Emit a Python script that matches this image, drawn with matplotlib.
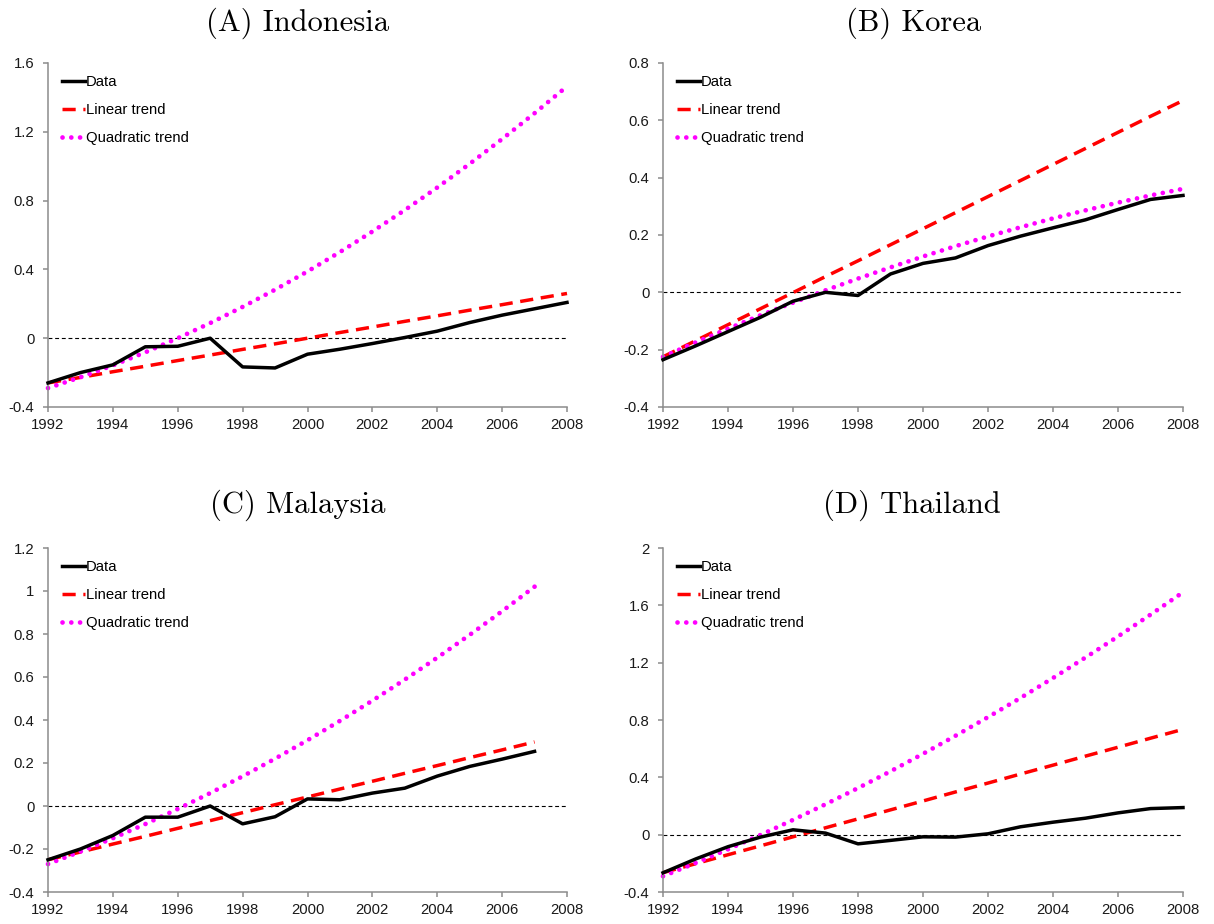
import matplotlib
matplotlib.use("Agg")
import matplotlib.pyplot as plt

plt.rcParams["font.family"] = ["Liberation Sans", "DejaVu Sans"]

years = list(range(1992, 2009))
x_ticks = [1992, 1994, 1996, 1998, 2000, 2002, 2004, 2006, 2008]
x_tick_labels = ["1992", "1994", "1996", "1998", "2000", "2002", "2004", "2006", "2008"]

# (A) Indonesia
indonesia_data = [-0.26, -0.20, -0.155, -0.05, -0.047, 0.0, -0.167, -0.173, -0.093,
                  -0.064, -0.031, 0.004, 0.041, 0.091, 0.134, 0.171, 0.208]
indonesia_linear = [-0.26, -0.228, -0.195, -0.163, -0.13, -0.098, -0.065, -0.033, 0.0,
                    0.033, 0.065, 0.098, 0.13, 0.163, 0.195, 0.228, 0.26]
indonesia_quad = [-0.29, -0.227, -0.158, -0.082, 0.0, 0.088, 0.182, 0.282, 0.388,
                  0.501, 0.62, 0.745, 0.876, 1.014, 1.158, 1.308, 1.464]
indonesia_yticks = [-0.4, 0.0, 0.4, 0.8, 1.2, 1.6]
indonesia_ylabels = ["-0.4", "0", "0.4", "0.8", "1.2", "1.6"]

# (B) Korea
korea_data = [-0.235, -0.187, -0.137, -0.087, -0.031, 0.0, -0.011, 0.064, 0.101,
              0.12, 0.163, 0.196, 0.225, 0.253, 0.289, 0.324, 0.338]
korea_linear = [-0.225, -0.169, -0.113, -0.057, -0.001, 0.055, 0.11, 0.166, 0.222,
                0.278, 0.334, 0.39, 0.446, 0.502, 0.558, 0.614, 0.669]
korea_quad = [-0.225, -0.175, -0.127, -0.08, -0.036, 0.007, 0.048, 0.087, 0.125,
              0.161, 0.195, 0.227, 0.258, 0.286, 0.313, 0.338, 0.361]
korea_yticks = [-0.4, -0.2, 0.0, 0.2, 0.4, 0.6, 0.8]
korea_ylabels = ["-0.4", "-0.2", "0", "0.2", "0.4", "0.6", "0.8"]

# (C) Malaysia (series end in 2007)
malaysia_years = list(range(1992, 2008))
malaysia_data = [-0.25, -0.20, -0.137, -0.052, -0.052, 0.0, -0.083, -0.05, 0.033,
                 0.029, 0.06, 0.083, 0.139, 0.184, 0.218, 0.254]
malaysia_linear = [-0.25, -0.214, -0.177, -0.141, -0.104, -0.068, -0.031, 0.006, 0.042,
                   0.079, 0.115, 0.152, 0.188, 0.225, 0.261, 0.298]
malaysia_quad = [-0.27, -0.212, -0.15, -0.084, -0.014, 0.06, 0.138, 0.22, 0.306,
                 0.396, 0.49, 0.588, 0.69, 0.796, 0.906, 1.02]
malaysia_yticks = [-0.4, -0.2, 0.0, 0.2, 0.4, 0.6, 0.8, 1.0, 1.2]
malaysia_ylabels = ["-0.4", "-0.2", "0", "0.2", "0.4", "0.6", "0.8", "1", "1.2"]

# (D) Thailand
thailand_data = [-0.266, -0.17, -0.084, -0.017, 0.034, 0.011, -0.064, -0.04, -0.015,
                 -0.017, 0.006, 0.055, 0.087, 0.115, 0.152, 0.182, 0.189]
thailand_linear = [-0.265, -0.203, -0.14, -0.078, -0.015, 0.048, 0.11, 0.173, 0.235,
                   0.298, 0.36, 0.423, 0.485, 0.548, 0.61, 0.673, 0.735]
thailand_quad = [-0.29, -0.198, -0.102, -0.002, 0.103, 0.212, 0.325, 0.442, 0.564,
                 0.69, 0.82, 0.954, 1.093, 1.236, 1.383, 1.535, 1.691]
thailand_yticks = [-0.4, 0.0, 0.4, 0.8, 1.2, 1.6, 2.0]
thailand_ylabels = ["-0.4", "0", "0.4", "0.8", "1.2", "1.6", "2"]

titles = ["(A) Indonesia", "(B) Korea", "(C) Malaysia", "(D) Thailand"]
series_labels = ["Data", "Linear trend", "Quadratic trend"]

W, H = 1214, 924
fig = plt.figure(figsize=(W / 100, H / 100), dpi=100)

# axes boxes in pixels: left, top, width, height
boxes = [(48, 63, 519, 344), (663, 63, 520, 344),
         (48, 548, 519, 344), (663, 548, 520, 344)]
title_pos = [(298, 23), (914, 23), (298, 505), (912, 505)]

panels = [
    (years, indonesia_data, years, indonesia_linear, years, indonesia_quad,
     indonesia_yticks, indonesia_ylabels),
    (years, korea_data, years, korea_linear, years, korea_quad,
     korea_yticks, korea_ylabels),
    (malaysia_years, malaysia_data, malaysia_years, malaysia_linear,
     malaysia_years, malaysia_quad, malaysia_yticks, malaysia_ylabels),
    (years, thailand_data, years, thailand_linear, years, thailand_quad,
     thailand_yticks, thailand_ylabels),
]

axis_gray = "#8c8c8c"
tick_fs = 10.7

for (l, t, w, h), (tx, ty), title, panel in zip(boxes, title_pos, titles, panels):
    xd, yd, xl, yl, xq, yq, yt, ylab = panel
    ax = fig.add_axes([l / W, 1 - (t + h) / H, w / W, h / H])
    ax.axhline(0, color="black", lw=0.8, dashes=(3.5, 2.5), zorder=1)
    ax.plot(xd, yd, color="black", lw=2.5, solid_joinstyle="round",
            label=series_labels[0], zorder=3, clip_on=False)
    ax.plot(xl, yl, color="#ff0000", lw=2.5, dashes=(3.8, 2.2),
            label=series_labels[1], zorder=2, clip_on=False)
    ax.plot(xq, yq, color="#ff00ff", lw=3.4, linestyle=(0, (0.01, 1.85)),
            dash_capstyle="round", label=series_labels[2], zorder=2, clip_on=False)

    ax.set_xlim(1992, 2008)
    ax.set_ylim(yt[0], yt[-1])
    ax.set_xticks(x_ticks)
    ax.set_xticklabels(x_tick_labels)
    ax.set_yticks(yt)
    ax.set_yticklabels(ylab)
    for s in ("top", "right"):
        ax.spines[s].set_visible(False)
    for s in ("left", "bottom"):
        ax.spines[s].set_color(axis_gray)
        ax.spines[s].set_linewidth(1.1)
    ax.tick_params(axis="both", direction="out", length=3.8, width=1.1,
                   color=axis_gray, labelsize=tick_fs, labelcolor="#1a1a1a")
    ax.tick_params(axis="y", pad=6)
    ax.tick_params(axis="x", pad=4)

    ax.legend(loc="upper left", bbox_to_anchor=(14 / w, 1 - 12 / h),
              frameon=False, fontsize=tick_fs, borderpad=0, borderaxespad=0,
              handlelength=1.55, handletextpad=0.08, labelspacing=0.95)

    fig.text(tx / W, 1 - ty / H, title, family="cmr10", fontsize=22,
             ha="center", va="center", color="black")

fig.savefig("out.png", dpi=100)
